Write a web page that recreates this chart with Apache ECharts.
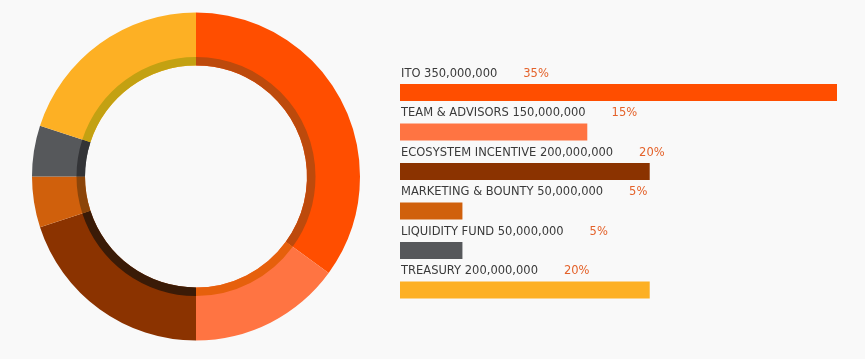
<!DOCTYPE html>
<html>
<head>
<meta charset="utf-8">
<script src="https://cdn.jsdelivr.net/npm/echarts@6/dist/echarts.min.js"></script>
<style>
html,body{margin:0;padding:0;background:#f9f9f9;}
#chart{width:865px;height:359px;}
</style>
</head>
<body>
<div id="chart"></div>
<script>
const categories = ['ITO', 'TEAM & ADVISORS', 'ECOSYSTEM INCENTIVE', 'MARKETING & BOUNTY', 'LIQUIDITY FUND', 'TREASURY'];
const amounts = [350000000, 150000000, 200000000, 50000000, 50000000, 200000000];
const percents = [35, 15, 20, 5, 5, 20];

const colors = ['#ff4e00', '#ff7442', '#8b3300', '#d0600c', '#56585b', '#fdb024'];
const innerColors = ['#bd4a0c', '#e6600c', '#3a1b07', '#8c4509', '#333437', '#c3a112'];

const chart = echarts.init(document.getElementById('chart'));

const pieData = categories.map((c, i) => ({ name: c, value: amounts[i], itemStyle: { color: colors[i] } }));
const pieInner = categories.map((c, i) => ({ name: c, value: amounts[i], itemStyle: { color: innerColors[i] } }));
const barData = categories.map((c, i) => ({ value: amounts[i], itemStyle: { color: colors[i] } }));

chart.setOption({
  backgroundColor: '#f9f9f9',
  animation: false,
  grid: { left: 400, right: 28, top: 72.75, bottom: 49.25 },
  xAxis: { type: 'value', min: 0, max: 350000000, show: false },
  yAxis: { type: 'category', data: categories, inverse: true, show: false },
  series: [
    {
      type: 'pie', silent: true, center: [196, 176.5], radius: [111, 164],
      startAngle: 90, clockwise: true, label: { show: false }, labelLine: { show: false },
      data: pieData
    },
    {
      type: 'pie', silent: true, center: [196, 176.5], radius: [111, 119.5],
      startAngle: 90, clockwise: true, label: { show: false }, labelLine: { show: false },
      data: pieInner
    },
    {
      type: 'bar', silent: true, barWidth: 17, data: barData,
      label: {
        show: true,
        position: [1, -10],
        align: 'left',
        verticalAlign: 'middle',
        formatter: p => '{n|' + categories[p.dataIndex] + ' ' + amounts[p.dataIndex].toLocaleString('en-US') + '}{p|' + percents[p.dataIndex] + '%}',
        rich: {
          n: { fontFamily: 'DejaVu Sans', fontSize: 11.5, color: '#3a3a3a' },
          p: { fontFamily: 'DejaVu Sans', fontSize: 11.5, color: '#e4622a', padding: [0, 0, 0, 26] }
        }
      }
    }
  ]
});
</script>
</body>
</html>
